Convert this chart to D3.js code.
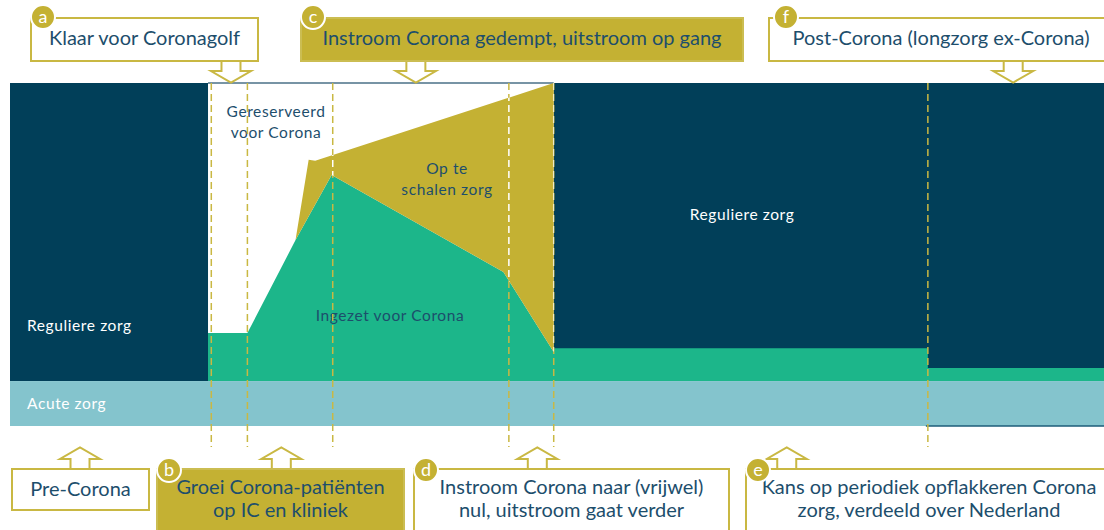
<!DOCTYPE html>
<html>
<head>
<meta charset="utf-8">
<script src="https://cdn.jsdelivr.net/npm/d3@7"></script>
<style>
  body { margin: 0; background: #fff; }
  svg { display: block; font-family: Lato, "Open Sans", sans-serif; }
  .boxText { font-size: 20px; fill: #1d4e6c; text-anchor: middle; }
  .zoneText { font-size: 15.5px; letter-spacing: 0.6px; }
</style>
</head>
<body>
<svg id="chart" width="1104" height="530"></svg>
<script>
// time axis runs 0..100, capacity axis 0..100 (top of the chart = full capacity)
var phaseX = [18.4, 21.7, 29.5, 45.6, 49.7, 83.9];      // dashed phase borders
var acuteLevel = 13.1;
var reguliereLeft = [0, 18.1];
var reguliereRight = [49.7, 100];
var coronaX = [18.1, 21.7, 26.1, 29.4, 45.1, 49.7, 49.7, 83.9, 83.9, 100];
var coronaY = [27.1, 27.1, 54.2, 73.2, 44.9, 21.6, 22.7, 22.7, 16.9, 16.9];
var schaalX = [26.1, 27.3, 27.9, 49.7];
var schaalY = [54.2, 77.6, 77.3, 100];

var noteLetters = ['a', 'b', 'c', 'd', 'e', 'f', ''];
var noteLines = [
  ['Klaar voor Coronagolf'],
  ['Groei Corona-patiënten', 'op IC en kliniek'],
  ['Instroom Corona gedempt, uitstroom op gang'],
  ['Instroom Corona naar (vrijwel)', 'nul, uitstroom gaat verder'],
  ['Kans op periodiek opflakkeren Corona', 'zorg, verdeeld over Nederland'],
  ['Post-Corona (longzorg ex-Corona)'],
  ['Pre-Corona']
];
var noteArrowAt = [20.2, 24.8, 37.1, 48.2, 71.0, 91.7, 6.4];

var navy = '#013f59', green = '#1cb68a', gold = '#c4b133', acute = '#84c4cd',
    line = '#c9b843', textNavy = '#1d4e6c';

var svg = d3.select('#chart');
var x = d3.scaleLinear().domain([0, 100]).range([10, 1104]);
var y = d3.scaleLinear().domain([0, 100]).range([426, 83]);

// regular care blocks
svg.append('rect')
  .attr('x', x(reguliereLeft[0])).attr('width', x(reguliereLeft[1]) - x(reguliereLeft[0]))
  .attr('y', y(100)).attr('height', y(acuteLevel) - y(100))
  .style('fill', navy);
svg.append('rect')
  .attr('x', x(reguliereRight[0])).attr('width', x(reguliereRight[1]) - x(reguliereRight[0]))
  .attr('y', y(100)).attr('height', y(acuteLevel) - y(100))
  .style('fill', navy);

// top border of the reserved zone
svg.append('line')
  .attr('x1', x(reguliereLeft[1])).attr('x2', x(reguliereRight[0]))
  .attr('y1', y(100)).attr('y2', y(100))
  .style('stroke', '#4a7087').style('stroke-width', 1.5);

// corona care (green)
var coronaPts = coronaX.map(function(d, i) { return [d, coronaY[i]]; });
var area = d3.area()
  .x(function(d) { return x(d[0]); })
  .y0(y(acuteLevel))
  .y1(function(d) { return y(d[1]); });
svg.append('path').attr('d', area(coronaPts)).style('fill', green);

// scalable care (gold): top edge, then back along the green edge
var schaalPts = schaalX.map(function(d, i) { return [d, schaalY[i]]; })
  .concat(coronaPts.slice(2, 6).reverse());
var poly = d3.line().x(function(d) { return x(d[0]); }).y(function(d) { return y(d[1]); });
svg.append('path').attr('d', poly(schaalPts) + 'Z').style('fill', gold);
svg.append('clipPath').attr('id', 'goldClip')
  .append('path').attr('d', poly(schaalPts) + 'Z');

// acute care band
svg.append('rect')
  .attr('x', x(0)).attr('width', x(100) - x(0))
  .attr('y', y(acuteLevel)).attr('height', y(0) - y(acuteLevel))
  .style('fill', acute);
svg.append('line')
  .attr('x1', x(phaseX[5]) - 2).attr('x2', x(100))
  .attr('y1', y(0)).attr('y2', y(0))
  .style('stroke', '#1d5d78').style('stroke-width', 1.5);

// zone labels
svg.append('text').attr('class', 'zoneText').attr('x', 27).attr('y', 331)
  .style('fill', '#fff').text('Reguliere zorg');
svg.append('text').attr('class', 'zoneText').attr('x', 27).attr('y', 409)
  .style('fill', '#fff').text('Acute zorg');
svg.append('text').attr('class', 'zoneText').attr('x', 742).attr('y', 220)
  .attr('text-anchor', 'middle').style('fill', '#fff').text('Reguliere zorg');
svg.append('text').attr('class', 'zoneText').attr('x', 390).attr('y', 321)
  .attr('text-anchor', 'middle').style('fill', textNavy).text('Ingezet voor Corona');
[['Gereserveerd', 'voor Corona', 276, 117], ['Op te', 'schalen zorg', 447, 174]].forEach(function(d) {
  var t = svg.append('text').attr('class', 'zoneText')
    .attr('text-anchor', 'middle').style('fill', textNavy);
  t.append('tspan').attr('x', d[2]).attr('y', d[3]).text(d[0]);
  t.append('tspan').attr('x', d[2]).attr('y', d[3] + 21).text(d[1]);
});

// dashed phase borders
svg.selectAll('.phase')
  .data(phaseX)
  .enter().append('line')
    .attr('class', 'phase')
    .attr('x1', function(d) { return x(d); }).attr('x2', function(d) { return x(d); })
    .attr('y1', y(100)).attr('y2', 447)
    .style('stroke', line).style('stroke-width', 1.5)
    .style('stroke-dasharray', '7,4');
svg.append('g').attr('clip-path', 'url(#goldClip)')
  .selectAll('line')
  .data(phaseX)
  .enter().append('line')
    .attr('x1', function(d) { return x(d); }).attr('x2', function(d) { return x(d); })
    .attr('y1', y(100)).attr('y2', 447)
    .style('stroke', '#fff').style('stroke-width', 1.5)
    .style('stroke-dasharray', '7,4');

// annotation boxes: [left, top, right, bottom, filled, above the chart?]
var boxLayout = [
  [31, 18, 258, 61, false, true],
  [157, 469, 404, 545, true, false],
  [301, 18, 743, 61, true, true],
  [414, 469, 729, 545, false, false],
  [746, 469, 1115, 545, false, false],
  [769, 18, 1115, 61, false, true],
  [12, 469, 149, 510, false, false]
];

function arrowPath(cx, y0, down) {
  var s = down ? 1 : -1;
  return 'M' + (cx - 9.5) + ',' + y0 +
    'L' + (cx - 9.5) + ',' + (y0 + s * 10) +
    'L' + (cx - 20) + ',' + (y0 + s * 10) +
    'L' + cx + ',' + (y0 + s * 21.5) +
    'L' + (cx + 20) + ',' + (y0 + s * 10) +
    'L' + (cx + 9.5) + ',' + (y0 + s * 10) +
    'L' + (cx + 9.5) + ',' + y0;
}

noteLines.forEach(function(lines, i) {
  var b = boxLayout[i];
  var g = svg.append('g');
  var down = b[5];
  // arrow towards the chart
  g.append('path')
    .attr('d', arrowPath(x(noteArrowAt[i]), down ? b[3] : b[1], down))
    .style('fill', '#fff').style('stroke', line).style('stroke-width', 2);
  g.append('rect')
    .attr('x', b[0]).attr('y', b[1])
    .attr('width', b[2] - b[0]).attr('height', b[3] - b[1])
    .style('fill', b[4] ? gold : '#fff')
    .style('stroke', b[4] ? '#cbbd52' : line)
    .style('stroke-width', 2);
  var cx = (b[0] + b[2]) / 2;
  if (i == 4) cx = 929;
  if (i == 5) cx = 941;
  var t = g.append('text').attr('class', 'boxText');
  lines.forEach(function(l, k) {
    t.append('tspan').attr('x', cx)
      .attr('y', (down ? 45 : (lines.length > 1 ? 494 : 496)) + k * 23)
      .text(l);
  });
  if (noteLetters[i] != '') {
    var bx = b[0] + (i == 5 ? 17 : 12), by = down ? 17 : 470;
    g.append('circle').attr('cx', bx).attr('cy', by).attr('r', 12)
      .style('fill', gold).style('stroke', '#fff').style('stroke-width', 2);
    g.append('text').attr('x', bx).attr('y', by + 6)
      .attr('text-anchor', 'middle')
      .style('fill', '#fff').style('font-size', '18px')
      .text(noteLetters[i]);
  }
});
</script>
</body>
</html>
